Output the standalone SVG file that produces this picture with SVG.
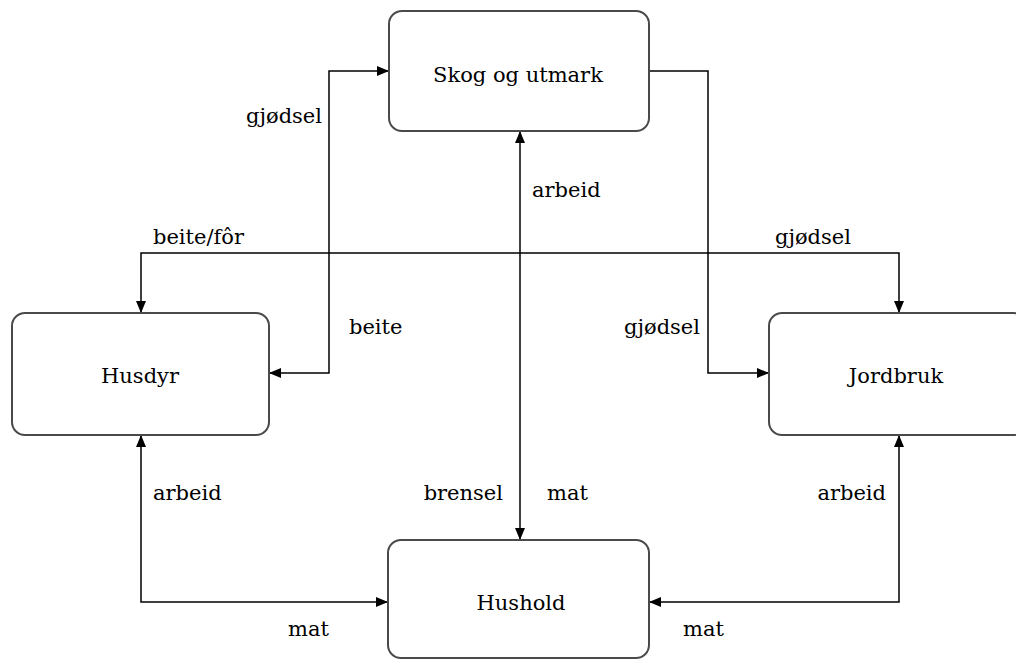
<svg xmlns="http://www.w3.org/2000/svg" width="1016" height="659" viewBox="0 0 1016 659">
<style>
.box{fill:#fff;stroke:#4a4a4a;stroke-width:2}
.ln{fill:none;stroke:#000;stroke-width:1.5}
.t{font-family:"DejaVu Serif","Liberation Serif",serif;font-size:21px;fill:#000}
.n{text-anchor:middle}
.e{text-anchor:end}
</style>
<defs>
<marker id="ah" viewBox="0 0 12 10" refX="12" refY="5" markerWidth="12" markerHeight="10" markerUnits="userSpaceOnUse" orient="auto-start-reverse">
<path d="M0,0 L12,5 L0,10 z" fill="#000"/>
</marker>
</defs>
<rect width="1016" height="659" fill="#fff"/>
<g id="connectors">
<path class="ln" d="M269 373 H329 V71 H389" marker-start="url(#ah)" marker-end="url(#ah)"/>
<path class="ln" d="M141 313 V253 H899 V313" marker-start="url(#ah)" marker-end="url(#ah)"/>
<path class="ln" d="M649 71 H708 V373 H769" marker-end="url(#ah)"/>
<path class="ln" d="M520 131 V540" marker-start="url(#ah)" marker-end="url(#ah)"/>
<path class="ln" d="M141 435 V602 H388" marker-start="url(#ah)" marker-end="url(#ah)"/>
<path class="ln" d="M899 435 V602 H649" marker-start="url(#ah)" marker-end="url(#ah)"/>
<text class="t e" x="322" y="123">gjødsel</text>
<text class="t" x="153" y="244">beite/fôr</text>
<text class="t" x="349" y="334">beite</text>
<text class="t" x="775" y="244">gjødsel</text>
<text class="t e" x="700" y="334">gjødsel</text>
<text class="t" x="532" y="197">arbeid</text>
<text class="t e" x="503" y="500">brensel</text>
<text class="t" x="547" y="500">mat</text>
<text class="t" x="153" y="500">arbeid</text>
<text class="t" x="288" y="636">mat</text>
<text class="t e" x="886" y="500">arbeid</text>
<text class="t" x="683" y="636">mat</text>
</g>
<g id="skog">
<rect class="box" x="389" y="11" width="260" height="120" rx="13"/>
<text class="t n" x="518" y="82">Skog og utmark</text>
</g>
<g id="husdyr">
<rect class="box" x="12" y="313" width="257" height="122" rx="13"/>
<text class="t n" x="140" y="383">Husdyr</text>
</g>
<g id="jordbruk">
<rect class="box" x="769" y="313" width="257" height="122" rx="13"/>
<text class="t n" x="896" y="383">Jordbruk</text>
</g>
<g id="hushold">
<rect class="box" x="388" y="540" width="261" height="118" rx="13"/>
<text class="t n" x="521" y="610">Hushold</text>
</g>
</svg>
